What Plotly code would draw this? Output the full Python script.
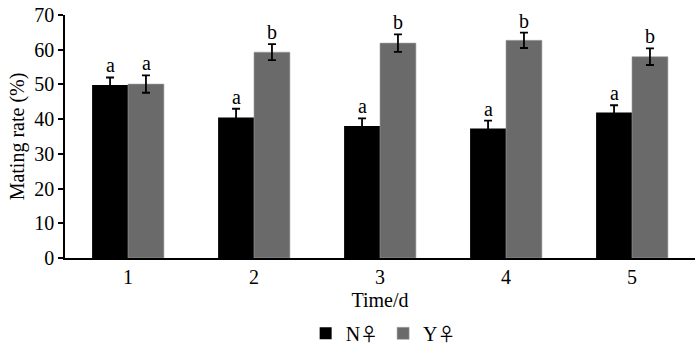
import plotly.graph_objects as go

categories = ["1", "2", "3", "4", "5"]
n_values = [49.8, 40.5, 38.0, 37.3, 41.9]
n_errors = [2.2, 2.5, 2.2, 2.3, 2.1]
n_letters = ["a", "a", "a", "a", "a"]
y_values = [50.1, 59.3, 61.9, 62.7, 58.0]
y_errors = [2.5, 2.3, 2.5, 2.2, 2.4]
y_letters = ["a", "b", "b", "b", "b"]
y_ticks = [0, 10, 20, 30, 40, 50, 60, 70]
series_names = ["N", "Y"]

FONT = "Liberation Serif"
FEMALE = '<span style="font-family:Noto Sans CJK SC;font-size:18px">\u2640</span>'

fig = go.Figure()
fig.add_trace(go.Bar(
    x=categories, y=n_values, name=series_names[0] + FEMALE,
    marker=dict(color="#000000", line=dict(width=0)),
    error_y=dict(type="data", array=n_errors, color="#000000", thickness=1.8, width=4),
))
fig.add_trace(go.Bar(
    x=categories, y=y_values, name=series_names[1] + FEMALE,
    marker=dict(color="#6a6a6a", line=dict(color="#a0a0a0", width=0.6)),
    error_y=dict(type="data", array=y_errors, color="#000000", thickness=1.8, width=4),
))

for i, c in enumerate(categories):
    fig.add_annotation(x=i, y=n_values[i] + n_errors[i], text=n_letters[i], xshift=-18,
                       yanchor="bottom", showarrow=False, yshift=-1,
                       font=dict(family=FONT, size=20, color="black"))
    fig.add_annotation(x=i, y=y_values[i] + y_errors[i], text=y_letters[i], xshift=18,
                       yanchor="bottom", showarrow=False, yshift=-1,
                       font=dict(family=FONT, size=20, color="black"))

fig.update_layout(
    width=700, height=350,
    margin=dict(l=65, r=5, t=15, b=92, autoexpand=False),
    paper_bgcolor="white", plot_bgcolor="white",
    barmode="group", bargap=0.43, bargroupgap=0,
    font=dict(family=FONT, size=20, color="black"),
    showlegend=True,
    legend=dict(orientation="h", x=0.505, xanchor="center", y=-0.31, yanchor="middle",
                font=dict(family=FONT, size=20), itemwidth=30, tracegroupgap=0),
    xaxis=dict(
        type="category", automargin=False,
        title=dict(text="Time/d", standoff=6, font=dict(family=FONT, size=20)),
        showline=True, linecolor="black", linewidth=1.5,
        ticks="", showgrid=False, tickfont=dict(family=FONT, size=20),
    ),
    yaxis=dict(
        automargin=False,
        title=dict(text="Mating rate (%)", standoff=4, font=dict(family=FONT, size=20)),
        range=[0, 70], tickvals=y_ticks, showline=True, linecolor="black", linewidth=1.5,
        ticks="outside", ticklen=5, tickwidth=1.5, tickcolor="black",
        showgrid=False, zeroline=False, tickfont=dict(family=FONT, size=20),
    ),
)

fig.write_html("out.html", config={"displayModeBar": False},
               post_script="document.body.style.margin='0';document.body.style.overflow='hidden';")
